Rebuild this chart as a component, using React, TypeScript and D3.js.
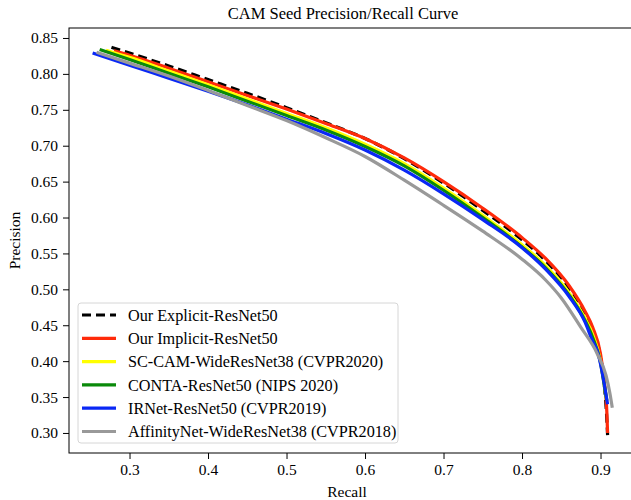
import { useEffect, useRef } from 'react';
import * as d3 from 'd3';

const xTicks = [0.3, 0.4, 0.5, 0.6, 0.7, 0.8, 0.9];
const yTicks = [0.3, 0.35, 0.4, 0.45, 0.5, 0.55, 0.6, 0.65, 0.7, 0.75, 0.8, 0.85];

// values
const explicitRecall = [0.277, 0.3, 0.35, 0.4, 0.45, 0.5, 0.55, 0.6, 0.65, 0.7, 0.75, 0.8, 0.83, 0.86, 0.88, 0.89, 0.9, 0.905, 0.908, 0.909];
const explicitPrecision = [0.837, 0.829, 0.811, 0.792, 0.773, 0.753, 0.732, 0.71, 0.682, 0.648, 0.61, 0.569, 0.54, 0.502, 0.467, 0.443, 0.405, 0.365, 0.32, 0.297];

const implicitRecall = [0.28, 0.3, 0.35, 0.4, 0.45, 0.5, 0.55, 0.6, 0.65, 0.7, 0.75, 0.8, 0.83, 0.86, 0.88, 0.89, 0.9, 0.905, 0.908, 0.909];
const implicitPrecision = [0.832, 0.826, 0.808, 0.789, 0.77, 0.751, 0.731, 0.71, 0.683, 0.65, 0.613, 0.572, 0.543, 0.505, 0.47, 0.447, 0.41, 0.37, 0.33, 0.3];

const scCamRecall = [0.27, 0.3, 0.35, 0.4, 0.45, 0.5, 0.55, 0.6, 0.65, 0.7, 0.75, 0.8, 0.83, 0.86, 0.88, 0.89, 0.9, 0.905, 0.908];
const scCamPrecision = [0.833, 0.823, 0.804, 0.785, 0.765, 0.745, 0.725, 0.702, 0.675, 0.641, 0.603, 0.562, 0.533, 0.495, 0.46, 0.437, 0.4, 0.365, 0.345];

const contaRecall = [0.262, 0.3, 0.35, 0.4, 0.45, 0.5, 0.55, 0.6, 0.65, 0.7, 0.75, 0.8, 0.83, 0.86, 0.88, 0.89, 0.9, 0.905, 0.908];
const contaPrecision = [0.834, 0.82, 0.801, 0.782, 0.762, 0.742, 0.722, 0.699, 0.672, 0.638, 0.6, 0.559, 0.53, 0.492, 0.457, 0.433, 0.398, 0.365, 0.345];

const irnetRecall = [0.253, 0.3, 0.35, 0.4, 0.45, 0.5, 0.55, 0.6, 0.65, 0.7, 0.75, 0.8, 0.83, 0.86, 0.88, 0.89, 0.896, 0.902, 0.906, 0.909];
const irnetPrecision = [0.829, 0.812, 0.794, 0.776, 0.757, 0.737, 0.717, 0.694, 0.666, 0.633, 0.597, 0.558, 0.528, 0.49, 0.455, 0.428, 0.414, 0.385, 0.36, 0.34];

const affinityRecall = [0.258, 0.3, 0.35, 0.4, 0.45, 0.5, 0.55, 0.6, 0.65, 0.7, 0.75, 0.8, 0.83, 0.85, 0.875, 0.896, 0.907, 0.912, 0.915];
const affinityPrecision = [0.83, 0.815, 0.797, 0.777, 0.756, 0.735, 0.711, 0.685, 0.652, 0.617, 0.581, 0.542, 0.513, 0.488, 0.447, 0.41, 0.38, 0.355, 0.335];

const seriesNames = [
  'Our Explicit-ResNet50',
  'Our Implicit-ResNet50',
  'SC-CAM-WideResNet38 (CVPR2020)',
  'CONTA-ResNet50 (NIPS 2020)',
  'IRNet-ResNet50 (CVPR2019)',
  'AffinityNet-WideResNet38 (CVPR2018)',
];
const seriesColors = ['#000000', '#ff2a0a', '#ffff00', '#0a8a0a', '#0a28f5', '#999999'];
const seriesRecall = [explicitRecall, implicitRecall, scCamRecall, contaRecall, irnetRecall, affinityRecall];
const seriesPrecision = [explicitPrecision, implicitPrecision, scCamPrecision, contaPrecision, irnetPrecision, affinityPrecision];

const FONT = '"Liberation Serif", "Times New Roman", serif';

const App = () => {
  const svgRef = useRef<SVGSVGElement>(null);

  useEffect(() => {
    if (!svgRef.current) return;
    const svg = d3.select(svgRef.current);
    svg.selectAll('*').remove();

    // right spine sits just past the picture edge, as in the reference
    const margin = { top: 28, left: 69 };
    const width = 569;
    const height = 425;

    const x = d3.scaleLinear().domain([0.2229, 0.2229 + width / 785]).range([0, width]);
    const y = d3.scaleLinear().domain([0.2721, 0.8639]).range([height, 0]);

    svg.append('rect').attr('width', 631).attr('height', 500).attr('fill', '#fff');

    svg.append('text')
      .attr('x', 343)
      .attr('y', 19)
      .attr('text-anchor', 'middle')
      .style('font-family', FONT)
      .style('font-size', '16.5px')
      .text('CAM Seed Precision/Recall Curve');

    const g = svg.append('g').attr('transform', `translate(${margin.left},${margin.top})`);

    const clip = svg.append('defs').append('clipPath').attr('id', 'plot-clip');
    clip.append('rect').attr('width', width).attr('height', height);

    // Curves
    const line = d3.line<[number, number]>()
      .x(d => x(d[0]))
      .y(d => y(d[1]))
      .curve(d3.curveMonotoneX);

    const curves = g.append('g').attr('clip-path', 'url(#plot-clip)');
    seriesNames.forEach((name, i) => {
      const pts = seriesRecall[i].map((r, j) => [r, seriesPrecision[i][j]] as [number, number]);
      curves.append('path')
        .datum(pts)
        .attr('d', line)
        .attr('fill', 'none')
        .attr('stroke', seriesColors[i])
        .attr('stroke-width', 3.2)
        .attr('stroke-dasharray', i === 0 ? '9,5' : null);
    });

    // Axes
    const xAxis = g.append('g')
      .attr('transform', `translate(0,${height})`)
      .call(d3.axisBottom(x).tickValues(xTicks).tickSize(6).tickPadding(5).tickFormat(d3.format('.1f')));
    const yAxis = g.append('g')
      .call(d3.axisLeft(y).tickValues(yTicks).tickSize(6).tickPadding(5).tickFormat(d3.format('.2f')));

    [xAxis, yAxis].forEach(ax => {
      ax.select('.domain').remove();
      ax.selectAll('text')
        .style('font-family', FONT)
        .style('font-size', '15.5px')
        .attr('fill', '#000');
    });

    g.append('rect')
      .attr('width', width)
      .attr('height', height)
      .attr('fill', 'none')
      .attr('stroke', '#000')
      .attr('stroke-width', 1);

    svg.append('text')
      .attr('x', 347)
      .attr('y', 497)
      .attr('text-anchor', 'middle')
      .style('font-family', FONT)
      .style('font-size', '15.5px')
      .text('Recall');

    svg.append('text')
      .attr('transform', `translate(20,${margin.top + height / 2}) rotate(-90)`)
      .attr('text-anchor', 'middle')
      .style('font-family', FONT)
      .style('font-size', '15.5px')
      .text('Precision');

    // Legend
    const legend = svg.append('g').attr('transform', 'translate(78,303)');
    legend.append('rect')
      .attr('width', 320)
      .attr('height', 140)
      .attr('rx', 3)
      .attr('fill', '#fff')
      .attr('fill-opacity', 0.8)
      .attr('stroke', '#d6d6d6')
      .attr('stroke-width', 1);

    seriesNames.forEach((name, i) => {
      const yy = 12 + i * 23.3;
      legend.append('line')
        .attr('x1', 4)
        .attr('x2', 38)
        .attr('y1', yy)
        .attr('y2', yy)
        .attr('stroke', seriesColors[i])
        .attr('stroke-width', 3.2)
        .attr('stroke-dasharray', i === 0 ? '9,5' : null);
      legend.append('text')
        .attr('x', 50)
        .attr('y', yy)
        .attr('dy', '0.35em')
        .style('font-family', FONT)
        .style('font-size', '16.2px')
        .text(name);
    });
  }, []);

  return (
    <svg
      ref={svgRef}
      width={631}
      height={500}
      style={{ position: 'absolute', left: 0, top: 0, display: 'block' }}
    />
  );
};

export default App;
